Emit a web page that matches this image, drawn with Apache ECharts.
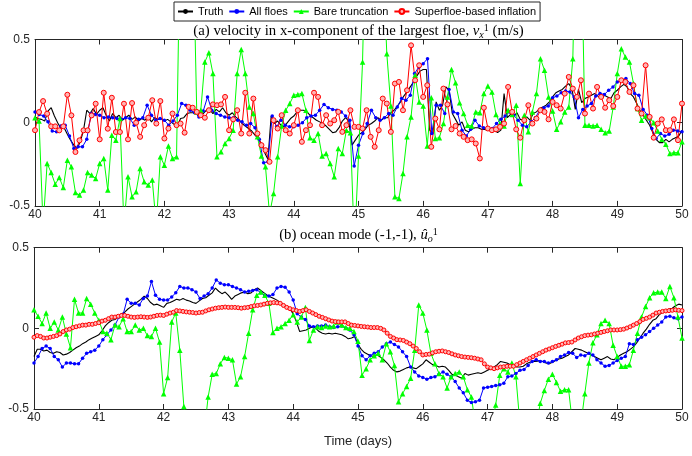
<!DOCTYPE html>
<html><head><meta charset="utf-8">
<script src="https://cdn.jsdelivr.net/npm/echarts@6/dist/echarts.min.js"></script>
<style>html,body{margin:0;padding:0;background:#fff}#c{width:692px;height:456px}</style>
</head><body><div id="c"></div>
<script>
// ---- panel (a): velocity of the largest floe ----
// Truth: one value every 0.05 day from 40 to 50
const truthA = [
0.034,0.024,0.02,0.01,0.07,0.09,0.04,0,-0.035,-0.03,-0.07,-0.105,-0.135,-0.155,-0.115,-0.045,0.075,0.055,0.085,0.05,
0.075,0.09,0.045,0.01,0.055,0.03,0.045,0.015,0.03,0.045,0.02,0.035,0.01,0.025,0.015,0.035,0.005,0.03,0.02,0.025,
0.01,0.02,0.005,-0.01,-0.02,0.025,0.03,0.055,0.06,0.06,0.05,0.065,0.055,0.075,0.08,0.055,0.08,0.065,0.09,0.06,
0.045,0.06,0.035,0.02,-0.005,-0.02,-0.035,-0.05,-0.075,-0.095,-0.125,-0.18,-0.22,0.04,-0.005,0.01,-0.015,-0.025,0,0.025,
0.04,0.065,0.075,0.075,0.065,0.045,0.03,0.015,0.005,-0.005,-0.02,-0.04,-0.06,-0.055,-0.03,0.01,0.03,0.01,-0.135,-0.105,
-0.075,-0.06,-0.04,-0.015,-0.005,0.01,0.03,0.015,0.03,0.03,0.06,0.075,0.1,0.125,0.16,0.185,0.215,0.245,0.28,0.31,
0.32,0.32,-0.045,-0.065,0.125,0.075,0.105,0.215,0.195,0.055,0.02,-0.015,0.005,-0.045,-0.055,-0.04,-0.03,-0.03,-0.04,-0.04,
-0.045,-0.04,-0.045,-0.06,-0.045,0.175,0.03,0.05,0.04,0.06,0.02,0.015,0.035,0.015,0.055,0.065,0.085,0.095,0.105,0.125,
0.155,0.18,0.19,0.2,0.22,0.235,0.205,0.08,0.2,0.12,0.145,0.155,0.165,0.175,0.16,0.145,0.165,0.155,0.145,0.18,
0.195,0.215,0.23,0.215,0.175,0.155,0.115,0.075,0.045,0.015,-0.015,-0.06,-0.1,-0.12,-0.12,-0.1,-0.115,-0.1,-0.09,-0.08,
-0.045];
// All floes: one value every 1/15 day
const blueA = [
0.065,0.05,0.04,0.005,-0.05,-0.055,-0.02,-0.015,-0.08,-0.155,-0.145,-0.145,-0.1,0.055,0.05,
0.045,0.03,0.035,0.03,0.025,0.02,0.03,0.025,-0.015,0.02,0.03,0.105,0.045,0.015,0.025,
0.015,-0.015,0.01,0.045,0.115,0.105,0.075,0.06,0.035,0.07,0.155,0.075,0.055,0.045,0.035,
0.03,0.03,0.015,0.005,-0.015,-0.005,-0.03,-0.1,-0.24,-0.235,0.04,-0.025,0.015,-0.015,-0.025,
-0.025,-0.015,0.0,0.03,0.04,0.045,0.075,0.11,0.09,0.08,0.075,0.065,0.04,0.015,-0.26,
-0.135,-0.065,-0.005,0.075,0.03,0.015,0.03,0.055,0.045,0.095,0.145,0.135,0.165,0.295,0.335,
0.355,0.385,-0.065,0.105,0.105,0.055,0.2,0.065,0.055,-0.045,-0.08,-0.04,0.015,-0.02,-0.03,
-0.04,-0.035,-0.005,0.02,0.04,0.065,0.045,0.015,-0.015,-0.025,0.005,0.03,0.075,0.09,0.1,
0.15,0.16,0.18,0.19,0.185,0.155,0.03,0.08,0.1,0.115,0.16,0.175,0.17,0.195,0.215,
0.245,0.255,0.265,0.235,0.175,0.165,0.08,0.045,-0.035,-0.095,-0.065,-0.08,-0.07,-0.045,-0.05,
-0.055];
// Bare truncation: one value every 1/16 day (values beyond +-0.5 leave the frame)
const greenA = [
0.03,0.01,-0.62,-0.245,-0.3,-0.37,-0.33,-0.39,-0.225,-0.265,-0.42,-0.435,-0.405,-0.3,-0.315,-0.335,
-0.245,-0.215,-0.405,-0.075,-0.105,0.025,-0.62,-0.325,-0.445,-0.415,-0.275,-0.355,-0.375,-0.345,-0.62,-0.205,
-0.255,-0.14,-0.215,-0.205,1.3,1.1,1.4,1.2,0.065,0.075,0.365,0.42,0.295,-0.205,-0.175,-0.125,
-0.095,-0.045,0.295,0.44,0.295,0.095,0.055,-0.085,-0.2,-0.265,-0.55,-0.425,-0.205,-0.02,0.075,0.115,
0.165,0.17,0.175,0.075,-0.09,-0.105,-0.065,-0.2,-0.185,-0.245,-0.325,-0.155,-0.185,-0.045,-0.06,-0.75,
-0.2,0.365,1.4,1.6,1.5,1.3,1.0,0.415,0.1,-0.445,-0.455,-0.305,-0.085,0.035,0.285,0.125,
0.1,-0.14,0.15,-0.095,-0.09,-0.005,0.155,0.32,0.24,0.12,0.055,-0.015,-0.02,0.065,0.06,0.175,
0.22,0.185,0.05,-0.005,-0.02,0.075,0.05,0.105,-0.365,0.045,-0.055,0.065,0.175,0.385,0.315,0.155,
0.07,-0.04,0.005,0.065,0.095,0.385,1.5,1.2,-0.015,-0.015,-0.02,-0.015,-0.04,-0.06,-0.05,0.095,
0.295,0.445,0.395,0.365,0.235,0.085,0.015,0.04,0.03,0.0,-0.05,-0.1,-0.13,-0.185,-0.18,-0.18,
-0.115];
// Superfloe-based inflation: one value every 1/16 day
const redA = [
-0.045,0.064,0.13,0.054,-0.022,-0.022,-0.046,-0.022,0.168,0.044,-0.176,-0.106,-0.046,-0.046,0.044,0.114,
-0.1,0.18,-0.036,0.15,-0.056,-0.056,0.114,-0.1,0.118,0.0,-0.085,-0.015,0.03,0.135,-0.005,0.13,
-0.095,-0.035,0.055,-0.015,-0.005,-0.06,0.095,0.09,0.065,0.045,0.03,0.075,0.11,0.105,0.11,0.155,
-0.045,0.02,0.075,-0.065,0.18,-0.065,0.145,-0.065,-0.135,-0.165,-0.235,0.015,-0.035,0.045,-0.045,-0.065,
-0.015,0.075,-0.115,-0.045,-0.015,0.18,0.155,-0.015,0.045,-0.005,0.015,0.065,-0.055,-0.015,0.075,-0.025,
-0.025,-0.035,0.075,-0.085,-0.145,-0.045,0.145,0.115,-0.055,0.235,0.245,0.075,0.195,0.465,0.255,0.345,
0.155,0.225,-0.145,0.025,-0.04,0.205,0.11,-0.04,-0.02,-0.065,-0.085,-0.105,-0.1,-0.125,-0.215,0.09,
-0.035,-0.045,-0.04,-0.025,-0.005,0.215,0.065,-0.04,-0.09,0.015,0.105,-0.005,0.025,0.075,0.065,0.02,
0.125,0.105,0.085,0.175,0.275,0.205,0.155,0.255,0.055,0.175,0.085,0.215,0.155,0.09,0.135,0.1,
0.155,0.255,0.245,0.185,0.225,0.085,0.055,0.345,0.035,-0.09,-0.005,0.02,-0.045,-0.045,0.02,-0.105,
0.115];

// ---- panel (b): ocean mode (-1,-1) ----
const truthB = [
-0.175,-0.13,-0.13,-0.14,-0.135,-0.15,-0.155,-0.145,-0.15,-0.165,-0.16,-0.15,-0.135,-0.12,-0.11,-0.095,-0.085,-0.07,-0.06,-0.05,
-0.04,-0.015,0.015,0.035,0.05,0.055,0.07,0.09,0.1,0.12,0.135,0.15,0.165,0.18,0.2,0.185,0.16,0.145,0.15,0.14,
0.13,0.155,0.16,0.17,0.18,0.175,0.185,0.175,0.17,0.16,0.155,0.17,0.185,0.19,0.205,0.22,0.25,0.23,0.215,0.225,
0.205,0.18,0.2,0.21,0.22,0.225,0.215,0.22,0.24,0.25,0.235,0.22,0.205,0.195,0.185,0.175,0.16,0.145,0.13,0.12,
0.09,0.04,-0.02,-0.015,-0.01,0,0.01,0,-0.02,-0.03,-0.035,-0.03,-0.035,-0.03,-0.035,-0.04,-0.05,-0.065,-0.06,-0.05,
-0.1,-0.13,-0.15,-0.16,-0.17,-0.175,-0.165,-0.18,-0.195,-0.215,-0.24,-0.26,-0.27,-0.265,-0.255,-0.245,-0.24,-0.245,-0.25,-0.235,
-0.22,-0.195,-0.21,-0.225,-0.23,-0.24,-0.235,-0.24,-0.26,-0.285,-0.29,-0.3,-0.31,-0.28,-0.29,-0.285,-0.28,-0.275,-0.28,-0.27,
-0.26,-0.25,-0.24,-0.225,-0.205,-0.21,-0.215,-0.225,-0.235,-0.24,-0.24,-0.235,-0.22,-0.21,-0.205,-0.205,-0.2,-0.205,-0.215,-0.22,
-0.21,-0.2,-0.19,-0.185,-0.175,-0.165,-0.145,-0.125,-0.13,-0.135,-0.145,-0.155,-0.165,-0.175,-0.185,-0.195,-0.185,-0.175,-0.19,-0.195,
-0.18,-0.165,-0.155,-0.145,-0.13,-0.115,-0.09,-0.06,-0.03,-0.005,0.025,0.05,0.06,0.085,0.1,0.11,0.12,0.125,0.14,0.15,
0.145];
const blueB = [
-0.215,-0.175,-0.125,-0.11,-0.125,-0.175,-0.195,-0.24,-0.215,-0.215,-0.22,-0.22,-0.185,-0.155,-0.145,-0.135,
-0.11,-0.07,-0.04,-0.01,0.02,0.07,0.085,0.18,0.155,0.155,0.145,0.185,0.2,0.29,0.205,0.18,
0.175,0.175,0.195,0.22,0.26,0.25,0.25,0.24,0.225,0.185,0.2,0.215,0.25,0.3,0.28,0.27,
0.27,0.26,0.25,0.24,0.225,0.23,0.235,0.24,0.22,0.205,0.2,0.21,0.25,0.26,0.255,0.225,
0.175,0.09,0.07,0.055,0.015,0.01,0.015,0.015,0.02,0.01,0.005,0.01,0.015,0.0,-0.01,-0.04,
-0.11,-0.17,-0.195,-0.17,-0.155,-0.145,-0.115,-0.095,-0.085,-0.1,-0.115,-0.145,-0.175,-0.24,-0.27,-0.295,
-0.305,-0.315,-0.305,-0.3,-0.285,-0.27,-0.285,-0.3,-0.33,-0.37,-0.4,-0.445,-0.46,-0.455,-0.445,-0.37,
-0.365,-0.36,-0.355,-0.35,-0.34,-0.3,-0.295,-0.28,-0.26,-0.255,-0.23,-0.205,-0.195,-0.205,-0.205,-0.215,
-0.205,-0.195,-0.175,-0.165,-0.15,-0.155,-0.18,-0.165,-0.17,-0.155,-0.165,-0.195,-0.215,-0.235,-0.23,-0.215,
-0.2,-0.185,-0.175,-0.095,-0.1,-0.07,-0.055,-0.04,-0.02,0.0,0.02,0.04,0.07,0.075,0.065,0.06,
0.07];
const greenB = [
0.115,0.075,0.03,0.095,0.0,0.04,-0.01,0.07,-0.035,-0.12,0.18,0.095,0.095,0.185,0.15,0.095,
0.05,-0.02,-0.03,-0.07,0.02,0.01,0.06,-0.02,-0.02,0.02,-0.01,0.0,-0.045,-0.05,0.0,-0.085,
-0.405,-0.305,0.04,0.095,-0.135,-0.485,-0.7,-0.85,-0.75,-0.9,-0.65,-0.425,-0.285,-0.28,-0.22,-0.18,
-0.185,-0.195,-0.345,-0.3,-0.175,-0.03,0.115,0.205,0.225,0.205,0.155,-0.025,0.0,0.01,0.03,0.05,
0.085,0.04,0.07,0.13,-0.075,-0.01,0.01,0.005,0.015,0.01,0.015,0.04,0.02,0.005,0.0,-0.02,
-0.08,-0.29,-0.25,-0.195,-0.17,-0.155,-0.195,-0.095,-0.145,-0.23,-0.455,-0.405,-0.36,-0.31,-0.135,0.145,
0.095,-0.01,-0.155,-0.22,-0.28,-0.3,-0.37,-0.3,-0.28,-0.27,-0.3,-0.38,-0.425,-0.6,-0.75,-0.8,
-0.7,-0.6,-0.475,-0.29,-0.25,-0.27,-0.215,-0.3,-0.6,-0.75,-0.8,-0.7,-0.6,-0.465,-0.385,-0.315,
-0.285,-0.335,-0.39,-0.38,-0.38,-0.6,-0.7,-0.6,-0.405,-0.215,-0.09,-0.04,0.03,0.05,0.03,-0.105,
-0.175,-0.235,-0.235,-0.225,-0.135,-0.03,0.07,0.135,0.19,0.22,0.225,0.225,0.185,0.26,0.19,0.07,
-0.06];
const redB = [
-0.055,-0.045,-0.05,-0.06,-0.06,-0.055,-0.05,-0.045,-0.035,-0.02,-0.01,-0.005,0.005,0.01,0.015,0.02,0.02,0.025,0.025,0.03,
0.035,0.045,0.05,0.06,0.07,0.07,0.075,0.08,0.08,0.075,0.07,0.068,0.07,0.072,0.07,0.068,0.07,0.075,0.08,0.082,
0.08,0.088,0.095,0.1,0.11,0.108,0.105,0.102,0.1,0.098,0.095,0.098,0.1,0.108,0.115,0.12,0.125,0.128,0.13,0.132,
0.13,0.13,0.13,0.128,0.125,0.128,0.13,0.135,0.14,0.142,0.145,0.15,0.155,0.158,0.16,0.158,0.155,0.142,0.13,0.122,
0.115,0.11,0.105,0.11,0.115,0.105,0.095,0.085,0.075,0.068,0.06,0.052,0.045,0.042,0.04,0.04,0.04,0.03,0.02,0.018,
0.015,0.012,0.01,0.008,0.005,0.005,0.005,0.0,-0.01,-0.03,-0.05,-0.06,-0.07,-0.072,-0.075,-0.085,-0.095,-0.11,-0.125,-0.145,
-0.165,-0.162,-0.16,-0.152,-0.145,-0.142,-0.14,-0.145,-0.15,-0.158,-0.165,-0.17,-0.175,-0.178,-0.18,-0.182,-0.185,-0.19,-0.195,-0.22,
-0.24,-0.245,-0.25,-0.245,-0.24,-0.238,-0.235,-0.235,-0.235,-0.225,-0.215,-0.205,-0.195,-0.185,-0.175,-0.165,-0.155,-0.145,-0.135,-0.128,
-0.12,-0.112,-0.105,-0.098,-0.09,-0.088,-0.085,-0.072,-0.06,-0.052,-0.045,-0.042,-0.04,-0.035,-0.03,-0.025,-0.02,-0.015,-0.01,-0.01,
-0.01,-0.008,-0.005,0.002,0.01,0.02,0.03,0.042,0.055,0.062,0.07,0.082,0.095,0.1,0.105,0.108,0.11,0.112,0.115,0.112,
0.11];

const seriesNames = ['Truth', 'All floes', 'Bare truncation', 'Superfloe-based inflation'];
const xTicks = [40, 50, 1];      // min, max, step (days)
const yTicks = [-0.5, 0.5, 0.5]; // min, max, step

function pairs(t0, dt, vals) { return vals.map((v, i) => [t0 + i * dt, v]); }

const AX = '#262626';
const SANS = '"Liberation Sans", Arial, Helvetica, sans-serif';
const SERIF = '"Liberation Serif", "Times New Roman", serif';

function xAx(grid, pos, extra) {
  return Object.assign({
    gridIndex: grid, type: 'value', position: pos,
    min: xTicks[0], max: xTicks[1], interval: xTicks[2],
    axisLine: { show: true, onZero: false, lineStyle: { color: AX, width: 1 } },
    axisTick: { show: true, inside: true, length: 5, lineStyle: { color: AX, width: 1 } },
    axisLabel: { show: pos === 'bottom', fontFamily: SANS, fontSize: 12, color: AX, margin: 3 },
    splitLine: { show: false }
  }, extra || {});
}
function yAx(grid, pos) {
  return {
    gridIndex: grid, type: 'value', position: pos,
    min: yTicks[0], max: yTicks[1], interval: yTicks[2],
    axisLine: { show: true, onZero: false, lineStyle: { color: AX, width: 1 } },
    axisTick: { show: true, inside: true, length: 5, lineStyle: { color: AX, width: 1 } },
    axisLabel: { show: pos === 'left', fontFamily: SANS, fontSize: 12, color: AX, margin: 5 },
    splitLine: { show: false }
  };
}

function makeSeries(grid, truth, blue, green, red, redDt, blueDt, redSize) {
  const xi = grid * 2, yi = grid * 2;
  const base = { type: 'line', xAxisIndex: xi, yAxisIndex: yi, clip: true, silent: true,
                 emphasis: { disabled: true }, animation: false };
  return [
    Object.assign({}, base, { name: seriesNames[0], data: pairs(40, 0.05, truth), symbol: 'none',
      lineStyle: { color: '#000000', width: 1.1 }, itemStyle: { color: '#000000' } }),
    Object.assign({}, base, { name: seriesNames[1], data: pairs(40, blueDt, blue), symbol: 'circle', symbolSize: 3.5,
      lineStyle: { color: '#0000ff', width: 1 }, itemStyle: { color: '#0000ff' } }),
    Object.assign({}, base, { name: seriesNames[2], data: pairs(40, 1 / 16, green), symbol: 'triangle', symbolSize: 5.5,
      lineStyle: { color: '#00ff00', width: 1 }, itemStyle: { color: '#00ff00' } }),
    Object.assign({}, base, { name: seriesNames[3], data: pairs(40, redDt, red), symbol: 'circle', symbolSize: redSize,
      lineStyle: { color: '#ff0000', width: 1 },
      itemStyle: { color: '#ffb4b4', borderColor: '#ff0000', borderWidth: 1 } })
  ];
}

const TF = 14.8;
const titleRich = {
  i: { fontFamily: SERIF, fontStyle: 'italic', fontSize: TF, color: '#000' },
  sub: { fontFamily: SERIF, fontStyle: 'italic', fontSize: 10, color: '#000', padding: [7, 0, 0, 0] },
  sup: { fontFamily: SERIF, fontSize: 10, color: '#000', padding: [0, 0, 7, 0] }
};

const chart = echarts.init(document.getElementById('c'), null, { renderer: 'canvas', width: 692, height: 456 });
chart.setOption({
  animation: false,
  backgroundColor: '#ffffff',
  title: [
    { text: '(a) velocity in x-component of the largest floe, {i|v}{sub|x}{sup|1} (m/s)',
      left: 358.5, top: 23, padding: 0, textAlign: 'center',
      textStyle: { fontFamily: SERIF, fontSize: TF, fontWeight: 'normal', color: '#000', rich: titleRich } },
    { text: '(b) ocean mode (-1,-1), {i|û}{sub|o}{sup|1}',
      left: 358.5, top: 227, padding: 0, textAlign: 'center',
      textStyle: { fontFamily: SERIF, fontSize: TF, fontWeight: 'normal', color: '#000', rich: titleRich } }
  ],
  legend: {
    data: seriesNames, top: 2, left: 174,
    itemWidth: 15, itemHeight: 6, itemGap: 5,
    padding: [4, 4, 4, 3],
    borderColor: '#262626', borderWidth: 1, backgroundColor: '#ffffff',
    textStyle: { fontFamily: SANS, fontSize: 11, color: '#000' },
    selectedMode: false
  },
  grid: [
    { left: 35, right: 10, top: 39.5, height: 166.4 },
    { left: 34, right: 10, top: 247.7, height: 161.3 }
  ],
  xAxis: [
    xAx(0, 'bottom'), xAx(0, 'top'),
    xAx(1, 'bottom', { name: 'Time (days)', nameLocation: 'middle', nameGap: 26,
      nameTextStyle: { fontFamily: SANS, fontSize: 13, color: AX } }),
    xAx(1, 'top')
  ],
  yAxis: [ yAx(0, 'left'), yAx(0, 'right'), yAx(1, 'left'), yAx(1, 'right') ],
  series: [].concat(
    makeSeries(0, truthA, blueA, greenA, redA, 1 / 16, 1 / 15, 5),
    makeSeries(1, truthB, blueB, greenB, redB, 0.05, 1 / 16, 4)
  )
});
</script>
</body></html>
